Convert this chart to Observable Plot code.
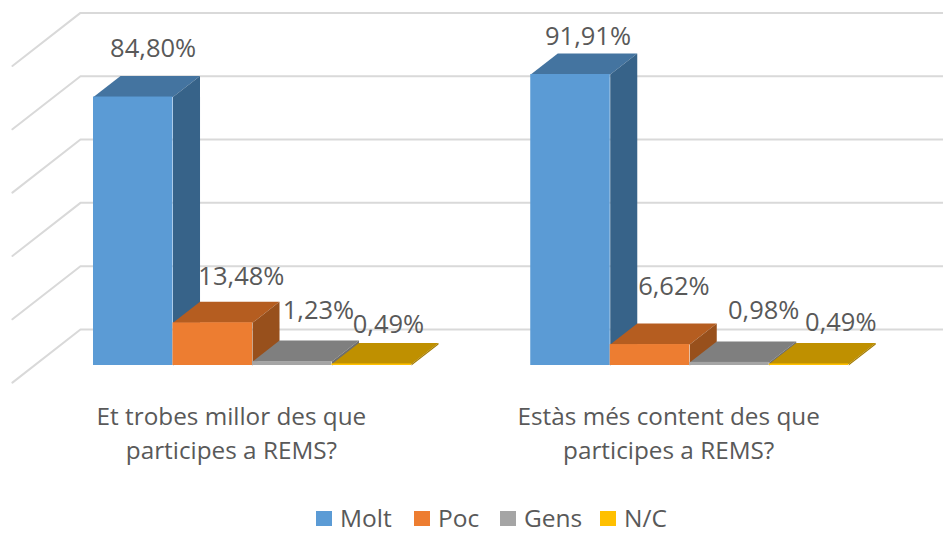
<!DOCTYPE html>
<html><head><meta charset="utf-8">
<script src="https://cdn.jsdelivr.net/npm/d3@7"></script>
<script src="https://cdn.jsdelivr.net/npm/@observablehq/plot@0.6"></script>
<style>
html,body{margin:0;padding:0;background:#fff}
#chart{width:943px;height:534px;overflow:hidden}
#chart svg{display:block}
.lg{height:36px;position:relative;font:24.5px/30px "Open Sans",sans-serif;color:#595959}
</style></head><body><div id="chart"></div>
<script>
const categories = ["Et trobes millor des que\nparticipes a REMS?", "Estàs més content des que\nparticipes a REMS?"];
const seriesNames = ["Molt", "Poc", "Gens", "N/C"];
const molt = [84.80, 91.91];
const poc = [13.48, 6.62];
const gens = [1.23, 0.98];
const nc = [0.49, 0.49];
const gridValues = [0, 20, 40, 60, 80, 100];
const frontColors = ["#5b9bd5", "#ed7d31", "#a5a5a5", "#ffc000"];
const topColors = ["#4474a0", "#b55d20", "#7f7f7f", "#bf9000"];
const sideColors = ["#376389", "#98501c", "#6e6e6e", "#a37b00"];
// label nudges, in slots and percent units
const labelShiftX = [[0.25, 0.36, 0.33, 0.21], [0.22, 0.30, 0.43, 0.40]];
const labelShiftY = [[8.5, 7.9, 9.5, 5.7], [5.4, 11.7, 9.8, 6.3]];

const values = [molt, poc, gens, nc];
const groupStart = [0, 5.5];     // slot where each cluster starts
const depthX = 0.34, depthY = 6.63; // 3-D depth, in scale units
const wallY = 11.37, floorY = -5.4, wallX = -0.164, floorX = -1.02, xEnd = 10.692;

const grid = gridValues.flatMap(v => [
  {id: v, x: floorX, y: v + floorY},
  {id: v, x: wallX, y: v + wallY},
  {id: v, x: xEnd, y: v + wallY}
]);

const faces = [], fronts = [], labels = [];
categories.forEach((c, g) => {
  seriesNames.forEach((s, i) => {
    const v = values[i][g], x0 = groupStart[g] + i, x1 = x0 + 1;
    fronts.push({x1: x0, x2: x1, y: v, fill: frontColors[i]});
    faces.push(
      ...[[x0, v], [x1, v], [x1 + depthX, v + depthY], [x0 + depthX, v + depthY]]
        .map(([x, y]) => ({id: `t${g}${i}`, x, y, fill: topColors[i], order: g * 10 + i})),
      ...[[x1, 0], [x1 + depthX, depthY], [x1 + depthX, v + depthY], [x1, v]]
        .map(([x, y]) => ({id: `s${g}${i}`, x, y, fill: sideColors[i], order: g * 10 + i}))
    );
    labels.push({
      x: x0 + 0.5 + labelShiftX[g][i],
      y: v + depthY + labelShiftY[g][i],
      text: v.toFixed(2).replace(".", ",") + "%"
    });
  });
});
const catRows = categories.map((c, g) => ({x: groupStart[g] + 2 - 0.265, y: -20.7, text: c}));

const font = '"Open Sans", sans-serif';
const plot = Plot.plot({
  width: 943, height: 498, margin: 0,
  x: {domain: [-1.1698, xEnd], range: [0, 943], axis: null},
  y: {domain: [0, 100], range: [365, 48.4], axis: null},
  marks: [
    Plot.line(grid, {x: "x", y: "y", z: "id", stroke: "#d9d9d9", strokeWidth: 2, curve: "linear"}),
    ...categories.flatMap((c, g) => seriesNames.flatMap((s, i) => [
      Plot.line(faces.filter(d => d.order === g * 10 + i), {x: "x", y: "y", z: "id", fill: "fill", stroke: null, curve: "linear"}),
      Plot.rect([fronts[g * 4 + i]], {x1: "x1", x2: "x2", y1: 0, y2: "y", fill: "fill"})
    ])),
    Plot.text(labels, {x: "x", y: "y", text: "text", fontSize: 25.5, fill: "#595959", fontFamily: font}),
    Plot.text(catRows, {x: "x", y: "y", text: "text", fontSize: 24.3, lineHeight: 1.4, fill: "#595959", fontFamily: font})
  ]
});
const root = document.getElementById("chart");
root.appendChild(plot);

const legendX = [316, 414, 500, 600];
const lg = d3.select(root).append("div").attr("class", "lg");
seriesNames.forEach((s, i) => {
  const it = lg.append("div").style("position", "absolute").style("left", legendX[i] + "px").style("top", "5px")
    .style("display", "flex").style("align-items", "center");
  it.append("span").style("display", "inline-block").style("width", "16px").style("height", "15px")
    .style("background", frontColors[i]).style("margin-right", "8px");
  it.append("span").text(s);
});
</script></body></html>
